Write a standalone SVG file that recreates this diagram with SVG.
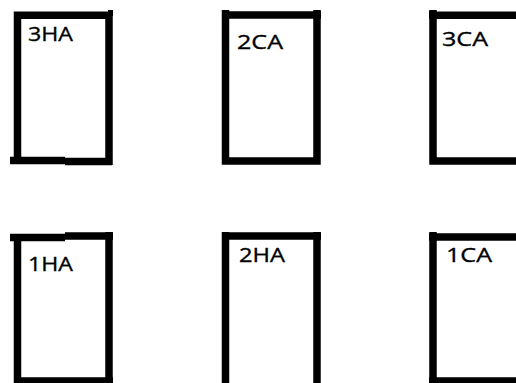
<svg xmlns="http://www.w3.org/2000/svg" width="516" height="383" viewBox="0 0 516 383">
<style>
.box{fill:none;stroke:#000;stroke-width:7.5;stroke-linecap:butt;stroke-linejoin:miter}
.lbl{font-family:"Open Sans","Noto Sans","Liberation Sans",sans-serif;font-size:20.5px;fill:#000;stroke:#000;stroke-width:0.35}
.ink{fill:#000}
</style>
<rect width="516" height="383" fill="#fff"/>
<g id="node-3HA">
<path class="box" d="M17.5,161 V15.3 H109 V165"/>
<path class="box" d="M10,160.5 H65"/>
<path class="box" d="M65,161.5 H112"/>
<rect class="ink" x="108" y="10" width="5" height="6"/>
<text class="lbl" x="28" y="41" textLength="45" lengthAdjust="spacingAndGlyphs">3HA</text>
</g>
<g id="node-2CA">
<path class="box" d="M225.5,10 V161 H317 V10"/>
<path class="box" d="M222,15 H321"/>
<text class="lbl" x="237" y="49" textLength="46" lengthAdjust="spacingAndGlyphs">2CA</text>
</g>
<g id="node-3CA">
<path class="box" d="M433,10 V161 H516"/>
<path class="box" d="M429,15.3 H516"/>
<text class="lbl" x="442" y="46" textLength="46" lengthAdjust="spacingAndGlyphs">3CA</text>
</g>
<g id="node-1HA">
<path class="box" d="M17.5,383 V237 M109,232 V383"/>
<path class="box" d="M10,237.5 H65"/>
<path class="box" d="M65,236 H113"/>
<path class="box" d="M14,381 H113"/>
<text class="lbl" x="28" y="271" textLength="45" lengthAdjust="spacingAndGlyphs">1HA</text>
</g>
<g id="node-2HA">
<path class="box" d="M225.5,232 V383 M317,232 V383"/>
<path class="box" d="M222,236 H321"/>
<text class="lbl" x="239" y="262" textLength="46" lengthAdjust="spacingAndGlyphs">2HA</text>
</g>
<g id="node-1CA">
<path class="box" d="M433,232 V383"/>
<path class="box" d="M429,237 H516"/>
<path class="box" d="M429,381 H516"/>
<text class="lbl" x="446" y="262" textLength="46" lengthAdjust="spacingAndGlyphs">1CA</text>
</g>
<g id="connectors"></g>
</svg>
